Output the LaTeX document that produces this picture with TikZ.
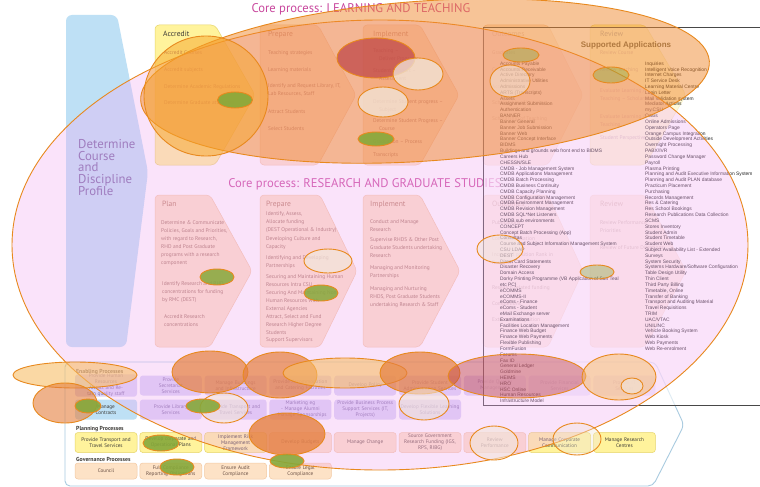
\documentclass[tikz,border=0pt]{standalone}
\usepackage{fontspec}
\setmainfont{PT Sans}
\newfontfamily\appfont{Liberation Sans}

\definecolor{peach}{HTML}{FDE2C6}
\definecolor{peachline}{HTML}{F3C9A3}
\definecolor{ybox}{HTML}{FFF39C}
\definecolor{yline}{HTML}{E6D56A}
\definecolor{lav}{HTML}{DAD3F7}
\definecolor{bluebox}{HTML}{BEE0F5}
\definecolor{panelline}{HTML}{A9CBE0}
\definecolor{itemcol}{HTML}{A5705E}
\definecolor{headcol}{HTML}{B77A5E}
\definecolor{lavtext}{HTML}{7B6BA6}
\definecolor{darktext}{HTML}{3C3A36}
\definecolor{pchtext}{HTML}{6A5045}
\definecolor{titlepink}{HTML}{C9489E}
\definecolor{detcol}{HTML}{7767A6}
\definecolor{ovline}{HTML}{E8891E}
\definecolor{pinkov}{HTML}{F2AAF2}
\definecolor{orangeov}{HTML}{F08A30}
\definecolor{amberov}{HTML}{F7A52A}
\definecolor{deepov}{HTML}{E5803F}
\definecolor{paleov}{HTML}{F7BE68}
\definecolor{greenov}{HTML}{86A83A}
\definecolor{lightov}{HTML}{F2E6DA}
\definecolor{redov}{HTML}{C04848}
\definecolor{apptitle}{HTML}{6E6650}

\tikzset{
  chev/.style={fill=peach, draw=peachline, line width=0.5pt, rounded corners=4pt},
  chevy/.style={fill=ybox, draw=yline, line width=0.5pt, rounded corners=4pt},
  head/.style={font=\fontsize{7.6}{9}\selectfont, text=headcol, anchor=base west, inner sep=0},
  item/.style={font=\fontsize{5.4}{8.1}\selectfont, anchor=north west, inner sep=0, align=left},
  ebox/.style={minimum width=62pt, minimum height=20pt, text width=60pt, align=center,
    rounded corners=3pt, inner sep=0, line width=0.5pt, font=\fontsize{5.2}{5.9}\selectfont},
  elav/.style={fill=lav, text=lavtext},
  eblue/.style={fill=bluebox, text=darktext},
  eyel/.style={fill=ybox, draw=yline, text=darktext},
  epch/.style={fill=peach, draw=peachline, text=pchtext},
  grp/.style={font=\fontsize{5.8}{7}\selectfont\bfseries, text=darktext, anchor=base west, inner sep=0},
  ov/.style={draw=ovline, line width=0.9pt},
  applist/.style={font=\appfont\fontsize{4.9}{5.82}\selectfont, text=black!85, anchor=north west,
    inner sep=0, align=left},
  ctitle/.style={font=\fontsize{12.6}{12.6}\selectfont, text=titlepink, inner sep=0}
}

\newcounter{lbl}
% item text: [colour]{x}{first baseline}{lines}
\newcommand{\itm}[4][itemcol]{\stepcounter{lbl}\node[item,text=#1] (itm\arabic{lbl}) at (#2,{#3-4}) {#4};}
% column header: [colour]{x}{baseline}{text}
\newcommand{\hd}[4][headcol]{\stepcounter{lbl}\node[head,text=#1] (hd\arabic{lbl}) at (#2,#3) {#4};}
% chevron: x, top, flat right end, tip x, bottom, style
\newcommand{\chev}[6]{\path[#6] (#1,#2) -- (#3,#2) -- (#4,{(#2+#5)/2}) -- (#3,#5) -- (#1,#5) -- cycle;}
% process box: name, column, centre y, style, text
\newcommand{\pbox}[5]{\node[ebox,#4] (#1) at ({106+64.8*#2},#3) {#5};}
% highlight ellipse: x, y, rx, ry, fill, opacity
\newcommand{\ovl}[6]{\path[ov, fill=#5, fill opacity=#6] (#1,#2) ellipse [x radius=#3, y radius=#4];}

\begin{document}
\begin{tikzpicture}[x=1pt, y=-1pt]
\useasboundingbox (0,0) rectangle (760,487);
\clip (0,0) rectangle (760,487);
\fill[white] (0,0) rectangle (760,487);

% ---- course and discipline profile
\path[fill=bluebox, rounded corners=6pt] (66,15) -- (117,15) -- (148,172) -- (126,347) -- (66,347) -- cycle;
\node[font=\fontsize{12.8}{11.8}\selectfont, text=detcol, align=left, anchor=north west, inner sep=0]
  (det) at (78,139) {Determine\\Course\\and\\Discipline\\Profile};

% ---- learning and teaching chevrons
\chev{155}{25}{215}{255}{165}{chevy}
\chev{260}{25}{318}{356}{165}{chev}
\chev{363}{25}{420}{459}{165}{chev}
\chev{483}{25}{548}{583}{165}{chev}
\chev{590}{25}{645}{686}{165}{chevy}

\node[ctitle] (tlt) at (361,9) {Core process: LEARNING AND TEACHING};

\hd[darktext]{163}{37}{Accredit}
\itm{164}{54}{Accredit Courses}
\itm{164}{71}{Accredit subjects}
\itm{164}{88}{Determine Academic Regulations}
\itm{164}{104}{Determine Graduate attributes}

\hd{268}{37}{Prepare}
\itm{268}{54}{Teaching strategies}
\itm{268}{71}{Learning materials}
\itm{268}{87}{Identify and Request Library, IT,\\Lab Resources, Staff}
\itm{268}{113}{Attract Students}
\itm{268}{130}{Select Students}

\hd{373}{37}{Implement}
\itm{373}{52}{Teaching –\\\hspace*{6pt}Deliver Programs}
\itm{373}{72}{Student Support –\\\hspace*{6pt}Assessment}
\itm{373}{103}{Determine Student progress –\\\hspace*{6pt}Subject}
\itm{373}{122}{Determine Student Progress –\\\hspace*{6pt}Course}
\itm{373}{143}{Graduation – Process}
\itm{373}{156}{Transcripts}

\hd{492}{37}{Outcomes}
\itm{492}{54}{Graduates}
\itm{492}{71}{Competencies}
\itm{492}{88}{Accreditation}
\itm{492}{104}{Scholarship of Learning}
\itm{492}{120}{Scholarship of Teaching}

\hd[darktext]{600}{37}{Review}
\itm{600}{54}{Review Course}
\itm{600}{71}{Review Teaching}
\itm{600}{92}{Evaluate Learning /\\Teaching – Scholarship}
\itm{600}{118}{Evaluate Learning /\\Teaching}
\itm{600}{139}{Student Perspective}

% ---- research and graduate studies chevrons
\chev{155}{195}{210}{252}{347}{chev}
\chev{260}{195}{320}{357}{347}{chev}
\chev{363}{195}{420}{460}{347}{chev}
\chev{483}{195}{548}{583}{347}{chev}
\chev{590}{195}{645}{686}{347}{chev}

\node[ctitle] (trg) at (365,184) {Core process: RESEARCH AND GRADUATE STUDIES};

\hd{162}{206}{Plan}
\itm{161}{224}{Determine \& Communicate\\Policies, Goals and Priorities,\\with regard to Research,\\RHD and Post Graduate\\programs with a research\\component}
\itm{162}{285}{Identify Research and RHD\\concentrations for funding\\by RMC (DEST)}
\itm{164}{318}{Accredit Research\\concentrations}

\hd{266}{206}{Prepare}
\itm{266}{215}{Identify, Assess,\\Allocate funding\\(DEST Operational \& Industry)}
\itm{266}{240}{Developing Culture and\\Capacity}
\itm{266}{259}{Identifying and Developing\\Partnerships}
\itm{266}{278}{Securing and Maintaining Human\\Resources Intra CSU}
\itm{266}{294}{Securing And Maintaining Non\\Human Resources with\\External Agencies}
\itm{266}{318}{Attract, Select and Fund\\Research Higher Degree\\Students}
\itm{266}{341}{Support Supervisors}

\hd{370}{206}{Implement}
\itm{370}{223}{Conduct and Manage\\Research}
\itm{370}{241}{Supervise RHDS \& Other Post\\Graduate Students undertaking\\Research}
\itm{370}{269}{Managing and Monitoring\\Partnerships}
\itm{370}{290}{Managing and Nurturing\\RHDS, Post Graduate Students\\undertaking Research \& Staff}

\hd{492}{206}{Outcomes}
\itm{492}{224}{Publications}
\itm{492}{240}{Commercialisation}
\itm{492}{256}{Increased position Rank in\\Research}
\itm{492}{289}{Research related funding}
\itm{492}{305}{Completions}
\itm{492}{321}{External Recognition}

\hd{600}{206}{Review}
\itm{600}{224}{Review Performance\\Priorities}
\itm{600}{249}{Review of Future Directions}

% ---- enabling, planning and governance panel
\path[draw=panelline, fill=white, line width=0.9pt, rounded corners=5pt]
  (65,362) -- (655,362) -- (684,425) -- (653,486) -- (65,486) -- cycle;

\node[grp] (gen) at (76,373) {Enabling Processes};
\node[grp] (gpl) at (76,430) {Planning Processes};
\node[grp] (ggv) at (76,461) {Governance Processes};

\pbox{ea0}{0}{385.5}{elav}{Provide Human\\Resources\\Attract and Retain quality staff}
\pbox{ea1}{1}{385.5}{elav}{Provide\\Secretariat\\Services}
\pbox{ea2}{2}{385.5}{elav}{Manage Buildings\\and Infrastructure}
\pbox{ea3}{3}{385.5}{elav}{Provide Accommodation\\and Catering Facilities}
\pbox{ea4}{4}{385.5}{elav}{Develop Policy}
\pbox{ea5}{5}{385.5}{elav}{Provide Student\\Administration Services}
\pbox{ea6}{6}{385.5}{elav}{Provide Quality\\Management}
\pbox{ea7}{7}{385.5}{elav}{Provide Financial\\Services}
\pbox{ea8}{8}{385.5}{elav}{Provide IT\\Services}

\pbox{eb0}{0}{409.5}{eblue}{Manage\\Contracts}
\pbox{eb1}{1}{409.5}{elav}{Provide Library\\Services}
\pbox{eb2}{2}{409.5}{elav}{Provide Transport and\\Travel Services}
\pbox{eb3}{3}{409.5}{elav}{Marketing eg\\- Manage Alumni\\- Manage Sponsorships}
\pbox{eb4}{4}{409.5}{elav}{Provide Business Process\\Support Services (IT,\\Projects)}
\pbox{eb5}{5}{409.5}{elav}{Develop Flexible Learning\\Solutions}

\pbox{pl0}{0}{442.5}{eyel}{Provide Transport and\\Travel Services}
\pbox{pl1}{1}{442.5}{eyel}{Develop corporate and\\Operational Plans}
\pbox{pl2}{2}{442.5}{eyel}{Implement Risk\\Management\\Framework}
\pbox{pl3}{3}{442.5}{epch}{Develop Budgets}
\pbox{pl4}{4}{442.5}{epch}{Manage Change}
\pbox{pl5}{5}{442.5}{epch}{Source Government\\Research Funding (IGS,\\RPS, RIBG)}
\pbox{pl6}{6}{442.5}{epch}{Review\\Performance}
\pbox{pl7}{7}{442.5}{eyel}{Manage Corporate\\Communication}
\pbox{pl8}{8}{442.5}{eyel}{Manage Research\\Centres}

\pbox{gv0}{0}{471}{epch,minimum height=16pt}{Council}
\pbox{gv1}{1}{471}{epch,minimum height=16pt}{Full Compliance\\Reporting Obligations}
\pbox{gv2}{2}{471}{epch,minimum height=16pt}{Ensure Audit\\Compliance}
\pbox{gv3}{3}{471}{epch,minimum height=16pt}{Ensure Legal\\Compliance}

% ---- supported applications list
\path[draw=black!72, line width=0.8pt, fill=white, fill opacity=0.62] (483,27) rectangle (775,405);
\node[font=\appfont\fontsize{8}{9}\selectfont\bfseries, text=apptitle] (apps) at (626,45) {Supported Applications};
\node[applist] (appl) at (500,61.5) {Accounts Payable\\Accounts Receivable\\Active Directory\\Administrative Utilities\\Admissions\\ARTS (Transcripts)\\Assets\\Assignment Submission\\Authentication\\BANNER\\Banner General\\Banner Job Submission\\Banner Web\\Banner Concept Interface\\BIDMS\\Buildings and grounds web front end to BIDMS\\Careers Hub\\CHESSN/SLE\\CMDB - Job Management System\\CMDB Applications Management\\CMDB Batch Processing\\CMDB Business Continuity\\CMDB Capacity Planning\\CMDB Configuration Management\\CMDB Environment Management\\CMDB Revision Management\\CMDB SQL*Net Listeners\\CMDB sub environments\\CONCEPT\\Concept Batch Processing (App)\\Consultas\\Course and Subject Information Management System\\CSU LDAP\\DEST\\Direct Card Statements\\Disaster Recovery\\Domain Access\\Dorky Printing Programme (VB Application of Sun Teal\\etc PC)\\eCOMMS\\eCOMMS-II\\eComs - Finance\\eComs - Student\\eMail Exchange server\\Examinations\\Facilities Location Management\\Finance Web Budget\\Finance Web Payments\\Flexible Publishing\\FormFusion\\Forums\\Fax ID\\General Ledger\\Goldmine\\HEIMS\\HRO\\HSC Online\\Human Resources\\Infrastructure Model};
\node[applist] (appr) at (645,61.5) {Inquiries\\Intelligent Voice Recognition\\Internet Charges\\IT Service Desk\\Learning Material Centre\\Login Letter\\Mail Validation system\\Mediator Actions\\my.CSU\\Oasis\\Online Admissions\\Operators Page\\Orange Campus Integration\\Outside Development Activities\\Overnight Processing\\PABX/IVR\\Password Change Manager\\Payroll\\Plasma Printing\\Planning and Audit Executive Information System\\Planning and Audit PLAN database\\Practicum Placement\\Purchasing\\Records Management\\Res \& Catering\\Res School Bookings\\Research Publications Data Collection\\SCMS\\Stores Inventory\\Student Admin\\Student Timetable\\Student Web\\Subject Availability List - Extended\\Surveys\\System Security\\Systems Hardware/Software Configuration\\Table Design Utility\\Thin Client\\Third Party Billing\\Timetable, Online\\Transfer of Banking\\Transport and Auditing Material\\Travel Requisitions\\TRIM\\UAC/VTAC\\UNILINC\\Vehicle Booking System\\Web Kiosk\\Web Payments\\Web Re-enrolment};

% ---- coverage ellipses
\path[ov, fill=pinkov, fill opacity=0.33] (380,245) ellipse [x radius=368, y radius=225];
\path[ov, fill=orangeov, fill opacity=0.5, rotate around={4:(425,81)}] (425,81) ellipse [x radius=285, y radius=80];

\ovl{206}{96}{62}{60}{amberov}{0.5}
\ovl{235}{100}{17.5}{8}{greenov}{0.9}
\ovl{376}{58}{39}{20}{redov}{0.75}
\ovl{418}{74}{25}{16}{lightov}{0.75}
\ovl{383}{102}{25}{15}{lightov}{0.75}
\ovl{376}{139}{18}{7}{greenov}{0.9}
\ovl{521}{55}{18}{7}{greenov}{0.4}
\ovl{510}{81}{20}{16}{lightov}{0.5}
\ovl{611}{75}{18}{8}{greenov}{0.4}
\ovl{217}{277}{17}{8}{greenov}{0.85}
\ovl{328}{261}{24}{12}{lightov}{0.7}
\ovl{321}{293}{17}{8}{greenov}{0.85}
\ovl{500}{249}{23}{14}{lightov}{0.5}
\ovl{597}{272}{17}{7}{greenov}{0.4}

\ovl{75}{375}{62}{13}{paleov}{0.6}
\ovl{65}{403}{32}{20}{deepov}{0.6}
\ovl{88}{406}{13}{7}{greenov}{0.9}
\ovl{210}{372}{38}{21}{deepov}{0.7}
\ovl{280}{375}{37}{23}{deepov}{0.7}
\ovl{345}{373}{62}{15}{paleov}{0.6}
\ovl{420}{373}{40}{21}{deepov}{0.7}
\ovl{517}{376}{69}{22}{redov}{0.45}
\ovl{619}{377}{37}{23}{paleov}{0.5}
\ovl{632}{386}{11}{8}{lightov}{0.6}
\ovl{224}{408}{24}{15}{lightov}{0.6}
\ovl{203}{406}{17}{7}{greenov}{0.9}
\ovl{287}{434}{38}{21}{deepov}{0.8}
\ovl{287}{461}{17}{7}{greenov}{0.9}
\ovl{161}{443}{18}{8}{greenov}{0.9}
\ovl{177}{467}{17}{8}{greenov}{0.9}
\ovl{424}{404}{25}{16}{lightov}{0.6}
\ovl{494}{443}{24}{17}{lightov}{0.6}
\ovl{577}{439}{24}{16}{lightov}{0.4}
\end{tikzpicture}
\end{document}
